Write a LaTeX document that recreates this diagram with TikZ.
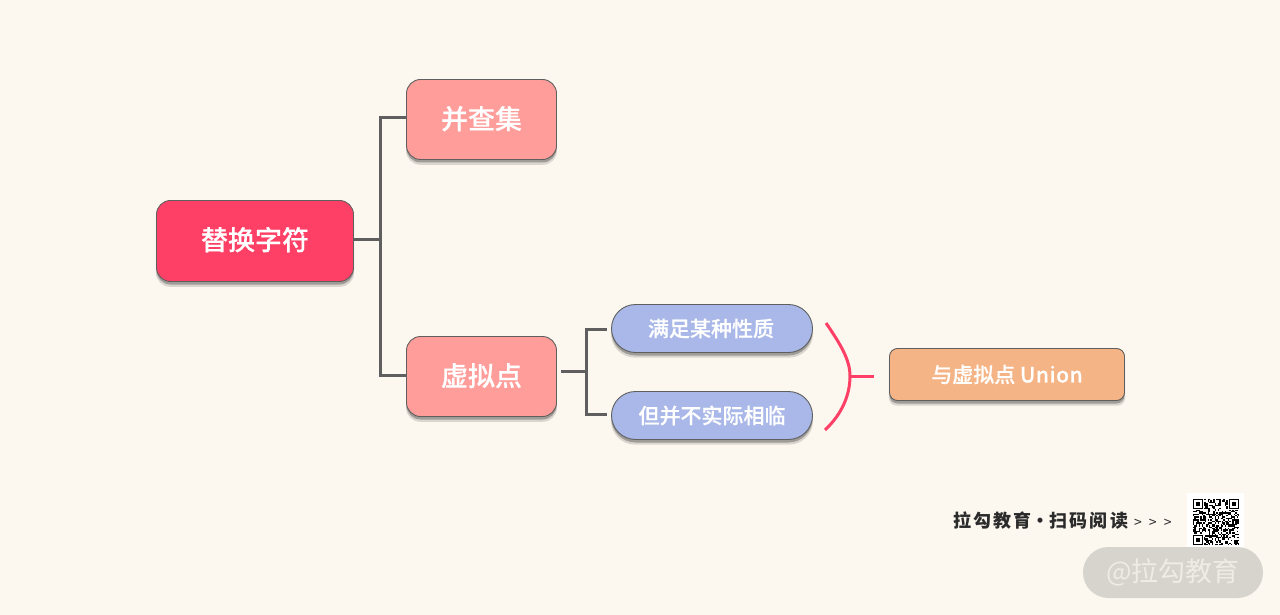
\documentclass[tikz,border=0pt]{standalone}
\usepackage{fontspec}
\usetikzlibrary{shadows}
\setmainfont{Noto Sans CJK SC}
\newfontfamily\midfont[FakeBold=.35]{Noto Sans CJK SC Medium}
\definecolor{pagebg}{HTML}{FCF7EF}
\definecolor{linegray}{HTML}{5F5F5F}
\definecolor{rootred}{HTML}{FF4066}
\definecolor{lightred}{HTML}{FF9D9A}
\definecolor{pillblue}{HTML}{A9B8E8}
\definecolor{unionorange}{HTML}{F5B485}
\definecolor{badgegray}{HTML}{D6D4CC}
\definecolor{badgetext}{HTML}{EEECE5}
\definecolor{footdark}{HTML}{2B2B2B}
\newcommand{\footspaced}[1]{{\addfontfeature{LetterSpace=12}#1}}

\begin{document}
\begin{tikzpicture}[x=1pt,y=-1pt,
		boxbase/.style={draw=linegray, line width=.9pt, text=white, font=\midfont, inner sep=0pt,
			general shadow={fill=black!60!pagebg, opacity=.22, shadow xshift=0pt, shadow yshift=-5pt, shadow scale=1.006},
			general shadow={fill=black!60!pagebg, opacity=.5, shadow xshift=0pt, shadow yshift=-3pt}},
		rootbox/.style={boxbase, fill=rootred, rounded corners=14pt, minimum width=197pt, minimum height=81pt},
		midbox/.style={boxbase, fill=lightred, rounded corners=14pt, minimum width=150pt, minimum height=80pt},
		pillbox/.style={boxbase, fill=pillblue, rounded corners=24pt, minimum width=201pt, minimum height=48pt},
		unionbox/.style={boxbase, fill=unionorange, rounded corners=8pt, minimum width=235pt, minimum height=52pt},
		branch/.style={draw=linegray, line width=3pt},
		bracket/.style={draw=rootred, line width=3pt}]
	\fill[pagebg] (0,0) rectangle (1280,615);

	\node[rootbox] (root) at (255,241) {\fontsize{27}{30}\selectfont\raisebox{5pt}{替换字符}};
	\node[midbox] (set) at (481.5,119.5) {\fontsize{27}{30}\selectfont\raisebox{4pt}{并查集}};
	\node[midbox] (virt) at (481.5,376.5) {\fontsize{27}{30}\selectfont\raisebox{4pt}{虚拟点}};
	\node[pillbox] (p1) at (712,328.5) {\fontsize{21}{24}\selectfont\hspace{-2pt}满足某种性质};
	\node[pillbox] (p2) at (712,415.5) {\fontsize{21}{24}\selectfont\raisebox{1pt}{但并不实际相临}};
	\node[unionbox] (u) at (1007,374.5) {\fontsize{21}{24}\selectfont\raisebox{1pt}{与虚拟点 {\addfontfeature{LetterSpace=2.5}Union}}};

	\draw[branch] ([yshift=2pt]root.east) -- ++(27,0) |- ([yshift=1.5pt]set.west);
	\draw[branch] ([yshift=2pt]root.east) ++(27,0) |- ([yshift=1.5pt]virt.west);

	\coordinate (v1) at (561,371); \coordinate (p1in) at (607,329); \coordinate (p2in) at (607,414.5);
	\draw[branch] (v1) -- (586,371) |- (p1in) (586,371) |- (p2in);

	\coordinate (bt) at (826,323); \coordinate (bm) at (850,376); \coordinate (bb) at (825,430); \coordinate (bo) at (874,376);
	\draw[bracket] (bt) .. controls (841,345) and (850,360) .. (bm) .. controls (850,395) and (842,414) .. (bb);
	\draw[bracket] (bm) -- (bo);

	% footer
	\node[anchor=west, inner sep=0pt, text=footdark, font=\bfseries] (foot) at (953,520.5) {\fontsize{18}{20}\selectfont\footspaced{拉勾教育}·\footspaced{扫码阅读}};
	\node[anchor=west, inner sep=0pt, text=footdark] (more) at (1134,523) {\fontsize{14}{16}\selectfont >\hspace{7pt}>\hspace{7pt}>};

	\fill[white] (1187,493) rectangle (1244,552);
	\pgfmathsetseed{41}
	\foreach \i in {0,...,31}{
		\foreach \j in {0,...,31}{
			\pgfmathparse{rnd<.5 ? 1 : 0}
			\ifnum\pgfmathresult=1
				\fill[black] (1193+\i*1.45,499+\j*1.45) rectangle ++(1.45,1.45);
			\fi
		}
	}
	\foreach \x/\y in {1193/499,1228.8/499,1193/534.8}{
		\fill[white] (\x-1,\y-1) rectangle ++(12.2,12.2);
		\fill[black] (\x,\y) rectangle ++(10.2,10.2);
		\fill[white] (\x+1.45,\y+1.45) rectangle ++(7.3,7.3);
		\fill[black] (\x+2.9,\y+2.9) rectangle ++(4.4,4.4);
	}

	\node[fill=badgegray, rounded corners=25.5pt, minimum width=180pt, minimum height=51pt, inner sep=0pt, text=badgetext] (badge) at (1173,572.5) {\fontsize{27}{30}\selectfont\raisebox{-1.5pt}{@拉勾教育}};
\end{tikzpicture}
\end{document}
